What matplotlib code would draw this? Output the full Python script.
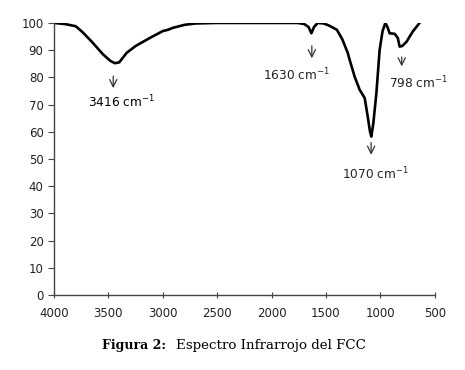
import matplotlib
matplotlib.use('Agg')
import matplotlib.pyplot as plt

# IR spectrum
wavenumber = [4000, 3900, 3800, 3734, 3650, 3550, 3480, 3440, 3400, 3332, 3250,
              3118, 3000, 2950, 2907, 2800, 2700, 2500, 2000, 1760, 1700, 1660,
              1634, 1610, 1576, 1520, 1470, 1400, 1350, 1300, 1282, 1236, 1190,
              1144, 1116, 1095, 1083, 1065, 1037, 1007, 980, 954, 935, 915, 869,
              840, 823, 800, 761, 703, 640]
transmittance = [100, 99.6, 98.8, 96.5, 93, 88.5, 86, 85.2, 85.5, 89, 91.5,
                 94.5, 97, 97.5, 98.2, 99.3, 99.8, 100, 100, 100, 99.6, 98.5,
                 96.2, 98.5, 100, 99.8, 99, 97.5, 94, 89, 86.4, 80.2, 75.4,
                 72.4, 65.5, 60, 58.2, 63, 74, 90, 97, 100, 98.5, 96.2, 96,
                 94.5, 91.3, 91.5, 93, 96.8, 100]

# peak labels with arrow and text positions (data units)
peak_labels = ["3416 cm$^{\\mathregular{-1}}$", "1630 cm$^{\\mathregular{-1}}$",
               "1070 cm$^{\\mathregular{-1}}$", "798 cm$^{\\mathregular{-1}}$"]
arrow_x = [3455, 1630, 1085, 804]
arrow_top = [81.5, 92.6, 57, 88.5]
arrow_bottom = [75, 86, 50.5, 83]
label_x = [3380, 1769, 1048, 648]
label_y = [71, 81, 44.5, 78]
label_color = ['#000000', '#222222', '#222222', '#222222']

fig = plt.figure(figsize=(4.65, 3.70), dpi=100)
ax = fig.add_axes([0.116, 0.203, 0.819, 0.735])

ax.plot(wavenumber, transmittance, color='black', linewidth=1.9,
        solid_joinstyle='round')

for txt, xa, t, b, tx, ty, c in zip(peak_labels, arrow_x, arrow_top,
                                    arrow_bottom, label_x, label_y,
                                    label_color):
    ax.annotate('', xy=(xa, b), xytext=(xa, t),
                arrowprops=dict(arrowstyle='->', color='#333333', lw=0.9,
                                mutation_scale=13))
    ax.text(tx, ty, txt, ha='center', va='center', fontsize=8.7, color=c)

ax.set_xlim(4000, 500)
ax.set_ylim(0, 100)
ax.set_xticks(range(4000, 499, -500))
ax.set_yticks(range(0, 101, 10))
ax.spines['top'].set_visible(False)
ax.spines['right'].set_visible(False)
for s in ('left', 'bottom'):
    ax.spines[s].set_color('#444444')
    ax.spines[s].set_linewidth(1.0)
ax.tick_params(axis='y', direction='out', length=4, color='#444444',
               labelsize=8.5, labelcolor='#222222')
ax.tick_params(axis='x', direction='inout', length=5, color='#444444',
               labelsize=8.5, labelcolor='#222222', pad=6)

fig.text(0.220, 0.067, 'Figura 2:', fontsize=9, fontweight='bold',
         family='DejaVu Serif', ha='left', va='center')
fig.text(0.378, 0.067, 'Espectro Infrarrojo del FCC', fontsize=9.6,
         family='DejaVu Serif', ha='left', va='center')

fig.savefig('out.png', dpi=100)
plt.close(fig)
